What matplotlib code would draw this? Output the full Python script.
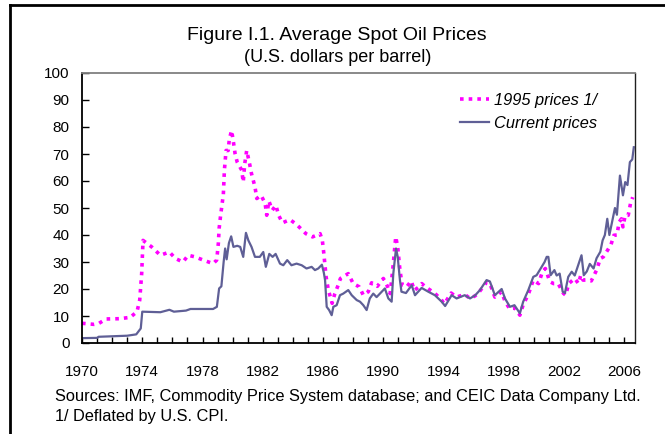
import numpy as np
import matplotlib
matplotlib.use("Agg")
import matplotlib.pyplot as plt
from matplotlib.lines import Line2D

plt.rcParams['font.family'] = ['Liberation Sans', 'DejaVu Sans']

# current prices, (year, US$ per barrel)
cur_t = [1970.0, 1971.0, 1971.1, 1972.0, 1973.0, 1973.6, 1973.9, 1974.0, 1975.2, 1975.8,
         1976.1, 1976.9, 1977.2, 1978.7, 1978.95, 1979.1, 1979.25, 1979.4, 1979.5, 1979.6,
         1979.75, 1979.9, 1980.05, 1980.3, 1980.5, 1980.7, 1980.88, 1981.04, 1981.25, 1981.48,
         1981.8, 1982.03, 1982.2, 1982.43, 1982.65, 1982.85, 1983.14, 1983.36, 1983.62, 1983.9,
         1984.24, 1984.58, 1984.9, 1985.24, 1985.46, 1985.68, 1985.92, 1986.05, 1986.13, 1986.24,
         1986.4, 1986.57, 1986.68, 1986.9, 1987.12, 1987.34, 1987.67, 1987.9, 1988.23, 1988.45,
         1988.67, 1988.89, 1989.1, 1989.33, 1989.55, 1989.77, 1990.1, 1990.33, 1990.55, 1990.66,
         1990.84, 1990.95, 1991.1, 1991.2, 1991.5, 1991.88, 1992.1, 1992.54, 1992.98, 1993.42,
         1993.87, 1994.1, 1994.53, 1994.86, 1995.4, 1995.75, 1996.1, 1996.41, 1996.85, 1997.07,
         1997.4, 1997.85, 1998.07, 1998.4, 1998.7, 1999.06, 1999.28, 1999.62, 1999.95, 2000.17,
         2000.5, 2000.7, 2000.84, 2000.95, 2001.1, 2001.35, 2001.5, 2001.7, 2001.9, 2002.05,
         2002.27, 2002.5, 2002.7, 2002.93, 2003.15, 2003.3, 2003.5, 2003.7, 2003.95, 2004.15,
         2004.4, 2004.55, 2004.7, 2004.86, 2005.0, 2005.15, 2005.37, 2005.5, 2005.7, 2005.9,
         2006.05, 2006.2, 2006.36, 2006.52, 2006.62]
cur_v = [1.8, 1.9, 2.3, 2.5, 2.7, 3.2, 5.4, 11.6, 11.4, 12.3,
         11.6, 12.0, 12.6, 12.6, 13.4, 20.2, 21.0, 30.0, 35.0, 31.0,
         37.0, 39.5, 35.6, 36.0, 35.6, 31.9, 40.8, 38.0, 35.6, 31.9,
         31.9, 33.7, 28.2, 33.0, 31.9, 33.0, 29.4, 28.8, 30.7, 28.8,
         29.4, 28.8, 27.6, 28.2, 27.0, 27.6, 29.0, 26.0, 23.3, 13.4,
         12.2, 10.3, 13.4, 14.0, 17.7, 18.3, 19.6, 17.7, 15.9, 15.3,
         14.0, 12.2, 16.5, 18.3, 17.0, 18.3, 20.2, 16.5, 15.3, 25.7,
         35.0, 32.0, 23.3, 19.0, 18.5, 21.4, 17.7, 20.4, 19.0, 17.7,
         15.3, 13.7, 17.7, 16.5, 17.7, 16.5, 17.7, 19.6, 23.3, 22.8,
         17.7, 20.0, 16.5, 13.4, 14.0, 11.0, 15.3, 19.6, 24.5, 25.1,
         28.2, 30.0, 31.9, 31.9, 25.1, 27.0, 25.0, 25.7, 19.0, 18.5,
         24.5, 26.4, 25.0, 28.8, 32.5, 25.1, 26.5, 29.3, 27.6, 31.4,
         33.8, 38.0, 40.0, 46.0, 40.0, 44.0, 50.0, 47.5, 62.0, 54.7,
         59.6, 58.5, 67.0, 68.0, 72.5]

# 1995 prices (deflated by US CPI)
real_t = [1970.0, 1970.8, 1971.1, 1971.6, 1972.5, 1973.2, 1973.65, 1973.83, 1973.96, 1974.05,
          1974.62, 1975.2, 1975.8, 1976.2, 1976.7, 1977.05, 1977.5, 1978.05, 1978.7, 1978.94,
          1979.05, 1979.1, 1979.2, 1979.38, 1979.45, 1979.56, 1979.7, 1979.78, 1979.93, 1980.05,
          1980.16, 1980.3, 1980.6, 1980.7, 1980.8, 1980.93, 1981.1, 1981.25, 1981.48, 1981.6,
          1981.88, 1982.15, 1982.26, 1982.4, 1982.63, 1982.87, 1983.05, 1983.3, 1983.8, 1984.24,
          1984.86, 1985.3, 1985.8, 1985.95, 1986.05, 1986.2, 1986.35, 1986.45, 1986.6, 1986.78,
          1987.0, 1987.15, 1987.67, 1988.0, 1988.4, 1988.67, 1989.0, 1989.22, 1989.6, 1990.0,
          1990.27, 1990.45, 1990.62, 1990.82, 1990.95, 1991.1, 1991.25, 1991.55, 1991.85, 1992.05,
          1992.3, 1992.55, 1992.75, 1993.0, 1993.4, 1993.85, 1994.05, 1994.5, 1994.85, 1995.4,
          1995.75, 1996.1, 1996.4, 1996.85, 1997.07, 1997.4, 1997.85, 1998.07, 1998.4, 1998.7,
          1999.06, 1999.28, 1999.62, 1999.95, 2000.3, 2000.55, 2000.75, 2001.05, 2001.3, 2001.6,
          2001.95, 2002.1, 2002.3, 2002.7, 2002.95, 2003.1, 2003.25, 2003.5, 2003.8, 2004.15,
          2004.4, 2004.6, 2004.95, 2005.1, 2005.3, 2005.5, 2005.65, 2005.8, 2005.9, 2006.05,
          2006.25, 2006.4, 2006.55]
real_v = [7.3, 6.9, 7.2, 8.9, 9.0, 9.5, 11.6, 15.9, 25.7, 38.0,
          35.6, 32.5, 33.7, 31.3, 30.0, 32.5, 31.9, 30.7, 29.4, 30.7,
          37.0, 42.4, 47.3, 55.0, 64.0, 71.3, 71.3, 75.6, 78.7, 74.4,
          70.1, 67.0, 64.0, 59.6, 66.4, 71.3, 67.0, 62.7, 57.8, 53.5,
          54.7, 51.8, 47.3, 52.6, 49.2, 51.0, 47.3, 44.5, 45.7, 43.9,
          40.5, 39.3, 40.5, 38.0, 33.1, 24.5, 19.6, 17.7, 14.7, 18.3,
          21.4, 23.9, 25.7, 22.0, 20.8, 17.7, 19.0, 22.3, 21.0, 23.9,
          21.0, 18.3, 27.0, 39.3, 35.6, 27.0, 21.4, 20.8, 23.0, 19.5,
          20.5, 22.0, 21.0, 20.0, 18.5, 16.0, 14.5, 18.5, 17.0, 18.0,
          16.5, 17.5, 19.2, 22.5, 22.0, 17.0, 19.0, 15.5, 12.5, 13.0,
          10.3, 14.2, 18.0, 23.3, 22.0, 26.3, 27.6, 22.7, 22.0, 22.0,
          18.4, 17.7, 22.0, 23.9, 22.0, 25.1, 23.3, 23.3, 23.0, 27.0,
          31.3, 31.9, 35.0, 36.3, 39.9, 40.0, 44.8, 46.0, 43.0, 47.3,
          47.3, 51.6, 54.0]

years = list(range(1970, 2007))
y_ticks = list(range(0, 101, 10))

W, H = 665, 434
fig = plt.figure(figsize=(W / 100, H / 100), dpi=100)
ax = fig.add_axes([82 / W, 1 - 343 / H, 553 / W, 270 / H])

ax.plot(real_t, real_v, color='#ff00ff', lw=2.6, linestyle=(0, (1, 1.4)),
        dash_capstyle='butt', label='1995 prices 1/')
ax.plot(cur_t, cur_v, color='#5f5f96', lw=1.6, label='Current prices')

ax.set_xlim(1970, 2006.7)
ax.set_ylim(0, 100)
ax.set_xticks(years)
ax.set_xticklabels([str(y) if (y - 1970) % 4 == 0 else '' for y in years])
ax.set_yticks(y_ticks)
ax.tick_params(axis='x', direction='in', length=4, width=1, labelsize=11, pad=16)
ax.tick_params(axis='y', direction='in', length=5, width=1, labelsize=11, pad=9)

for s in ['left', 'bottom']:
    ax.spines[s].set_linewidth(1.3)
    ax.spines[s].set_color('black')
ax.spines['top'].set_color('#808080')
ax.spines['top'].set_linewidth(1.3)
ax.spines['right'].set_color('#202020')
ax.spines['right'].set_linewidth(1.0)

leg = ax.legend(loc='upper left', bbox_to_anchor=(460 / W, 1 - 93 / H),
                bbox_transform=fig.transFigure, frameon=False, fontsize=11.8,
                handlelength=1.75, handletextpad=0.3, labelspacing=0.5, borderpad=0,
                borderaxespad=0)
for t in leg.get_texts():
    t.set_fontstyle('italic')

fig.text(337 / W, 1 - 35 / H, 'Figure I.1. Average Spot Oil Prices', ha='center',
         va='center', fontsize=14)
fig.text(338 / W, 1 - 58 / H, '(U.S. dollars per barrel)', ha='center', va='center',
         fontsize=13)
fig.text(55 / W, 1 - 397 / H,
         'Sources: IMF, Commodity Price System database; and CEIC Data Company Ltd.',
         ha='left', va='center', fontsize=11.8)
fig.text(55 / W, 1 - 416 / H, '1/ Deflated by U.S. CPI.', ha='left', va='center',
         fontsize=11.8)

# outer frame (top and left edges)
fig.add_artist(Line2D([10 / W, 10 / W], [0, 1 - 5 / H], transform=fig.transFigure,
                      color='black', lw=2))
fig.add_artist(Line2D([10 / W, 1], [1 - 5 / H, 1 - 5 / H], transform=fig.transFigure,
                      color='black', lw=2))

fig.savefig('out.png', dpi=100)
